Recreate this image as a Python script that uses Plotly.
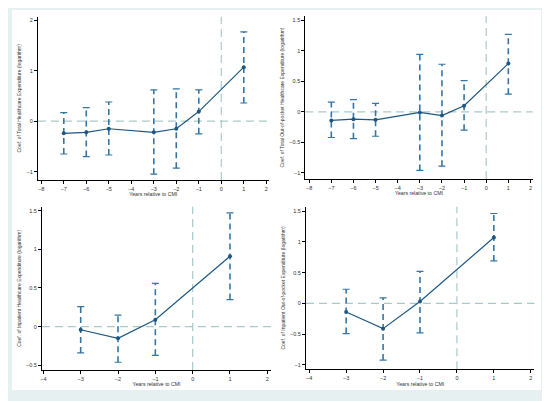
import plotly.graph_objects as go

# event-study coefficients
years_long = [-7, -6, -5, -3, -2, -1, 1]
years_short = [-3, -2, -1, 1]

total_coef = [-0.24, -0.22, -0.15, -0.22, -0.15, 0.19, 1.07]
total_hi = [0.17, 0.27, 0.38, 0.62, 0.64, 0.62, 1.77]
total_lo = [-0.65, -0.70, -0.67, -1.05, -0.93, -0.25, 0.36]

oop_coef = [-0.14, -0.12, -0.13, -0.01, -0.06, 0.10, 0.79]
oop_hi = [0.16, 0.20, 0.14, 0.94, 0.78, 0.51, 1.27]
oop_lo = [-0.42, -0.44, -0.40, -0.96, -0.89, -0.30, 0.29]

inp_coef = [-0.04, -0.15, 0.09, 0.91]
inp_hi = [0.26, 0.15, 0.56, 1.47]
inp_lo = [-0.34, -0.46, -0.37, 0.35]

inp_oop_coef = [-0.14, -0.41, 0.03, 1.07]
inp_oop_hi = [0.23, 0.09, 0.52, 1.46]
inp_oop_lo = [-0.49, -0.92, -0.48, 0.69]

ytitles = [
    "Coef. of Total Healthcare Expenditure (logarithm)",
    "Coef. of Total Out-of-pocket Healthcare Expenditure (logarithm)",
    "Coef. of Inpatient Healthcare Expenditure (logarithm)",
    "Coef. of Inpatient Out-of-pocket Expenditure (logarithm)",
]

# page has an 8px body margin, so the figure is shrunk and positions shifted
OFF = 8
W, H = 550 - OFF, 401 - OFF
LINE = "#1d5682"
CI = "#3574a3"
REF = "#a9c9c9"


def px_x(a, b):
    return [(a - OFF) / W, (b - OFF) / W]


def px_y(top, bottom):
    return [1 - (bottom - OFF) / H, 1 - (top - OFF) / H]


panels = [
    dict(x=years_long, c=total_coef, hi=total_hi, lo=total_lo,
         xd=px_x(36, 267.5), yd=px_y(16.7, 180),
         xr=[-8.15, 2.1], yr=[-1.165, 2.07],
         xt=list(range(-8, 3)), yt=[-1, 0, 1, 2]),
    dict(x=years_long, c=oop_coef, hi=oop_hi, lo=oop_lo,
         xd=px_x(304.3, 532.6), yd=px_y(16, 179),
         xr=[-8.18, 2.1], yr=[-1.10, 1.57],
         xt=list(range(-8, 3)), yt=[-1, -0.5, 0, 0.5, 1, 1.5]),
    dict(x=years_short, c=inp_coef, hi=inp_hi, lo=inp_lo,
         xd=px_x(40, 270), yd=px_y(206.7, 370),
         xr=[-4.04, 2.1], yr=[-0.56, 1.55],
         xt=list(range(-4, 3)), yt=[-0.5, 0, 0.5, 1, 1.5]),
    dict(x=years_short, c=inp_oop_coef, hi=inp_oop_hi, lo=inp_oop_lo,
         xd=px_x(305, 534.4), yd=px_y(206.7, 369.3),
         xr=[-4.09, 2.1], yr=[-1.07, 1.57],
         xt=list(range(-4, 3)), yt=[-1, -0.5, 0, 0.5, 1, 1.5]),
]

fig = go.Figure()
shapes = [dict(type="rect", xref="paper", yref="paper",
               x0=(10 - OFF) / W, x1=(541 - OFF) / W,
               y0=1 - (390 - OFF) / H, y1=1 - (10 - OFF) / H,
               fillcolor="white", line=dict(width=0), layer="below")]

for i, p in enumerate(panels):
    n = "" if i == 0 else str(i + 1)
    xa, ya = "x" + n, "y" + n
    # dashed confidence intervals
    vx, vy = [], []
    for x, lo, hi in zip(p["x"], p["lo"], p["hi"]):
        vx += [x, x, None]
        vy += [lo, hi, None]
    fig.add_trace(go.Scatter(x=vx, y=vy, mode="lines", xaxis=xa, yaxis=ya,
                             line=dict(color=CI, width=1.6, dash="6px,4px"),
                             showlegend=False, hoverinfo="skip"))
    fig.add_trace(go.Scatter(x=p["x"] + p["x"], y=p["hi"] + p["lo"], mode="markers",
                             xaxis=xa, yaxis=ya,
                             marker=dict(symbol="line-ew-open", size=5, color=CI,
                                         line=dict(color=CI, width=1.2)),
                             showlegend=False, hoverinfo="skip"))
    fig.add_trace(go.Scatter(x=p["x"], y=p["c"], mode="lines+markers",
                             xaxis=xa, yaxis=ya,
                             line=dict(color=LINE, width=1.2),
                             marker=dict(color=LINE, size=4),
                             showlegend=False))
    shapes.append(dict(type="line", xref=xa + " domain", yref=ya,
                       x0=0, x1=1, y0=0, y1=0, layer="below",
                       line=dict(color=REF, width=1.2, dash="8px,5px")))
    shapes.append(dict(type="line", xref=xa, yref=ya + " domain",
                       x0=0, x1=0, y0=0, y1=1, layer="below",
                       line=dict(color=REF, width=1.2, dash="8px,5px")))
    common = dict(showgrid=False, zeroline=False, showline=True, linecolor="black",
                  linewidth=0.8, ticks="outside", ticklen=3, tickwidth=0.8,
                  tickcolor="black", tickfont=dict(size=5.5, color="#333"))
    fig.layout["xaxis" + n] = dict(
        domain=p["xd"], range=p["xr"], tickvals=p["xt"], anchor=ya,
        title=dict(text="Years relative to CMI", font=dict(size=5.2, color="#333"),
                   standoff=1),
        **common)
    fig.layout["yaxis" + n] = dict(
        domain=p["yd"], range=p["yr"], tickvals=p["yt"], anchor=xa,
        title=dict(text=ytitles[i], font=dict(size=5, color="#333"), standoff=4),
        **common)

fig.update_layout(
    width=W, height=H,
    margin=dict(l=0, r=0, t=0, b=0),
    paper_bgcolor="#e6f0f1",
    plot_bgcolor="white",
    font=dict(family="Liberation Sans, Arial, sans-serif"),
    shapes=shapes,
    showlegend=False,
)

fig.write_html("out.html")
